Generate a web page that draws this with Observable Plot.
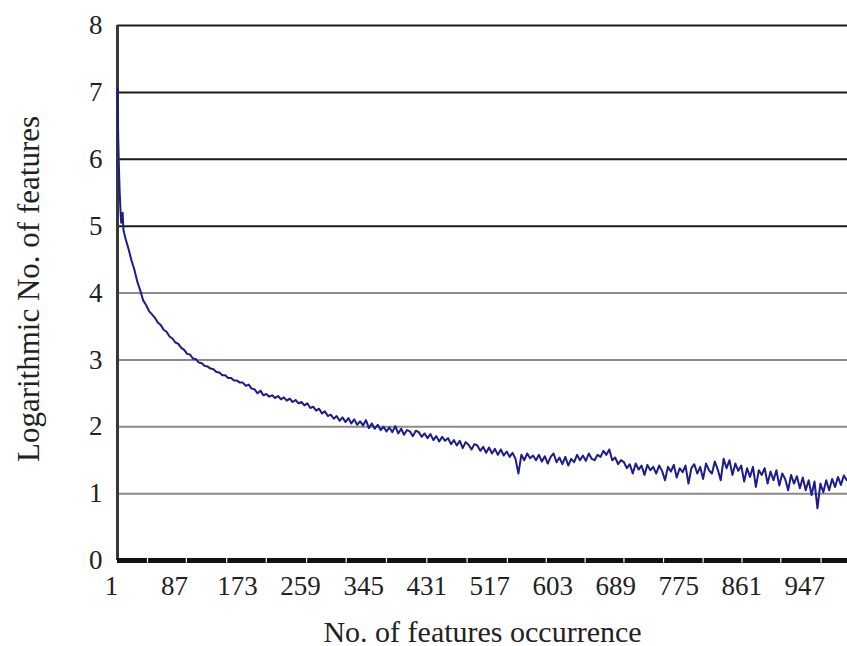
<!DOCTYPE html>
<html><head><meta charset="utf-8">
<script src="https://cdn.jsdelivr.net/npm/d3@7"></script>
<script src="https://cdn.jsdelivr.net/npm/@observablehq/plot@0.6"></script>
<style>body{margin:0;background:#fff}</style>
</head><body><div id="chart"></div>
<script>
// First occurrences (explicit)
const headOccurrence = [1, 2, 3, 4, 5, 6, 7, 8, 9, 10];
const headLogFeatures = [7.05, 6.3, 5.85, 5.5, 5.25, 5.05, 5.12, 5.2, 4.95, 4.9];
// Following occurrences 12, 16, 20, ... 996 (every 4th category)
const tailFirst = 12, tailStep = 4;
const tailLogFeatures = [
  4.81, 4.66, 4.49, 4.35, 4.17, 4.04, 3.89, 3.82, 3.73, 3.68,
  3.63, 3.56, 3.52, 3.45, 3.42, 3.35, 3.32, 3.26, 3.24, 3.18,
  3.15, 3.09, 3.08, 3.02, 3.01, 2.96, 2.95, 2.91, 2.90, 2.87,
  2.86, 2.82, 2.81, 2.77, 2.77, 2.73, 2.73, 2.69, 2.69, 2.66,
  2.66, 2.61, 2.63, 2.57, 2.56, 2.50, 2.54, 2.47, 2.49, 2.45,
  2.47, 2.43, 2.46, 2.41, 2.44, 2.39, 2.42, 2.37, 2.40, 2.35,
  2.37, 2.32, 2.35, 2.28, 2.30, 2.24, 2.27, 2.20, 2.23, 2.16,
  2.18, 2.12, 2.16, 2.09, 2.14, 2.07, 2.13, 2.05, 2.11, 2.03,
  2.08, 2.02, 2.10, 1.98, 2.05, 1.97, 2.03, 1.95, 2.00, 1.93,
  1.99, 1.92, 2.01, 1.90, 1.97, 1.88, 1.95, 1.93, 1.86, 1.94,
  1.92, 1.85, 1.90, 1.83, 1.89, 1.80, 1.86, 1.78, 1.85, 1.79,
  1.83, 1.74, 1.80, 1.72, 1.79, 1.68, 1.77, 1.73, 1.66, 1.74,
  1.72, 1.64, 1.70, 1.61, 1.69, 1.60, 1.67, 1.58, 1.66, 1.57,
  1.63, 1.55, 1.61, 1.52, 1.30, 1.58, 1.50, 1.60, 1.53, 1.57,
  1.50, 1.58, 1.48, 1.56, 1.45, 1.55, 1.60, 1.47, 1.54, 1.44,
  1.55, 1.42, 1.52, 1.47, 1.58, 1.50, 1.57, 1.49, 1.60, 1.52,
  1.50, 1.58, 1.55, 1.64, 1.58, 1.66, 1.50, 1.54, 1.44, 1.50,
  1.47, 1.38, 1.44, 1.30, 1.45, 1.36, 1.42, 1.28, 1.43, 1.35,
  1.40, 1.30, 1.42, 1.34, 1.20, 1.40, 1.33, 1.43, 1.24, 1.38,
  1.32, 1.42, 1.15, 1.38, 1.44, 1.30, 1.40, 1.22, 1.45, 1.35,
  1.30, 1.48, 1.36, 1.20, 1.52, 1.38, 1.50, 1.28, 1.45, 1.34,
  1.42, 1.18, 1.38, 1.25, 1.40, 1.10, 1.35, 1.28, 1.38, 1.15,
  1.33, 1.20, 1.35, 1.12, 1.30, 1.22, 1.05, 1.28, 1.15, 1.26,
  1.08, 1.24, 1.05, 1.20, 0.98, 1.18, 0.78, 1.15, 1.02, 1.20,
  1.05, 1.22, 1.10, 1.25, 1.13, 1.27, 1.20
];
const xTickLabels = [1, 87, 173, 259, 345, 431, 517, 603, 689, 775, 861, 947];
const yTickLabels = [0, 1, 2, 3, 4, 5, 6, 7, 8];
const darkGridValues = [5, 6, 7, 8];
const lightGridValues = [1, 2, 3, 4];
const axisGapValues = [42, 95, 150, 204, 259, 313, 368, 423, 478, 533, 586, 639, 692, 746, 800, 853, 906, 961];
const xTitle = "No. of features occurrence";
const yTitle = "Logarithmic No. of features";

const series = headOccurrence.map((x, i) => ({x, y: headLogFeatures[i]}))
  .concat(tailLogFeatures.map((y, i) => ({x: tailFirst + i * tailStep, y})));

const chart = Plot.plot({
  width: 847,
  height: 646,
  marginLeft: 117,
  marginRight: 0,
  marginTop: 25,
  marginBottom: 86,
  style: {fontFamily: "'Liberation Serif', 'DejaVu Serif', serif", fontSize: "27px", color: "#222", background: "#fff"},
  x: {domain: [1, 997]},
  y: {domain: [0, 8]},
  marks: [
    Plot.ruleY(lightGridValues, {stroke: "#8a8a8a", strokeWidth: 2}),
    Plot.ruleY(darkGridValues, {stroke: "#1a1a1a", strokeWidth: 2}),
    Plot.ruleX([1], {stroke: "#383838", strokeWidth: 3}),
    Plot.lineY(series, {x: "x", y: "y", stroke: "#1c1c8e", strokeWidth: 2}),
    Plot.ruleY([0], {stroke: "#111", strokeWidth: 5}),
    Plot.ruleX(axisGapValues, {y1: -0.04, y2: 0.04, stroke: "#fff", strokeWidth: 1.2}),
    Plot.axisX(xTickLabels, {tickSize: 0, tickPadding: 15, dx: -6, label: null, tickFormat: d => String(d)}),
    Plot.axisY(yTickLabels, {tickSize: 0, tickPadding: 15, label: null, tickFormat: d => String(d)}),
    Plot.text([xTitle], {frameAnchor: "bottom", textAnchor: "middle", dy: 81, lineAnchor: "bottom", fontSize: 30}),
    Plot.text([yTitle], {frameAnchor: "left", textAnchor: "middle", rotate: -90, dx: -101, dy: -4, lineAnchor: "top", fontSize: 31})
  ]
});
document.getElementById("chart").appendChild(chart);
</script>
</body></html>
